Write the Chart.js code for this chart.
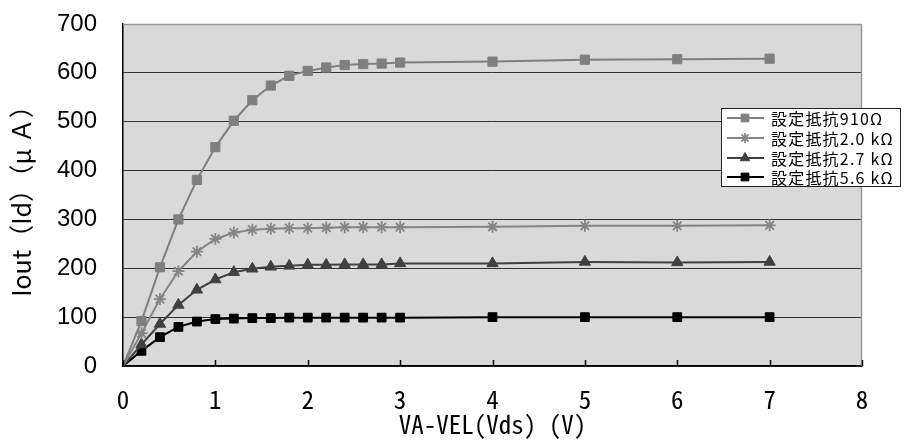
<!DOCTYPE html>
<html><head><meta charset="utf-8">
<script src="https://cdn.jsdelivr.net/npm/chart.js@4/dist/chart.umd.min.js"></script>
<style>html,body{margin:0;padding:0;background:#fff;}#wrap{width:904px;height:441px;}</style>
</head><body><div id="wrap"><canvas id="c" width="904" height="441"></canvas></div>
<script>
const vds = [0,0.2,0.4,0.6,0.8,1.0,1.2,1.4,1.6,1.8,2.0,2.2,2.4,2.6,2.8,3.0,4,5,6,7];
const r910 = [0,92,202,300,381,448,502,544,574,594,604,611,616,618,619,621,623,627,628,629];
const r2k0 = [0,67,137,194,234,260,273,279,281,282,282,283,284,284,284,284,285,287,287,288];
const r2k7 = [0,44,86,125,156,177,192,199,203,205,207,207,208,208,208,210,210,213,212,213];
const r5k6 = [0,31,59,80,91,96,97,98,98,99,99,99,99,99,99,99,100,100,100,100];
const seriesNames = ['設定抵抗910Ω','設定抵抗2.0 kΩ','設定抵抗2.7 kΩ','設定抵抗5.6 kΩ'];
const xTicks = [0,1,2,3,4,5,6,7,8];
const yTicks = [0,100,200,300,400,500,600,700];
const xTitle = 'VA-VEL(Vds) (V)';
const yTitle = 'Iout（Id）（μ Ａ）';

const pts = arr => arr.map((v,i)=>({x:vds[i], y:v}));
const radii = r => vds.map((v,i)=> i===0 ? 0 : r);

function ds(label, data, color, style, r){
  return {label, data:pts(data), borderColor:color, backgroundColor:color,
    pointBorderColor:color, pointBackgroundColor:color, pointStyle:style,
    pointRadius:radii(r), pointHoverRadius:radii(r), borderWidth:2, pointBorderWidth:style==='star'?1.8:1,
    tension:0, fill:false};
}

const MONO = '"Noto Sans Mono CJK JP","Noto Sans CJK JP",sans-serif';

const bgPlugin = {
  id:'bg',
  beforeDraw(chart){
    const {ctx, chartArea:a} = chart;
    ctx.save(); ctx.fillStyle='#d9d9d9';
    ctx.fillRect(a.left,a.top,a.right-a.left,a.bottom-a.top);
    ctx.restore();
  },
  afterDatasetsDraw(chart){
    const {ctx, chartArea:a, scales} = chart;
    ctx.save();
    ctx.strokeStyle='#999'; ctx.lineWidth=1.5;
    ctx.beginPath(); ctx.moveTo(a.left,a.top+0.5); ctx.lineTo(a.right,a.top+0.5);
    ctx.moveTo(a.right-0.5,a.top); ctx.lineTo(a.right-0.5,a.bottom); ctx.stroke();
    ctx.strokeStyle='#000'; ctx.lineWidth=1.5;
    ctx.beginPath();
    xTicks.forEach(t=>{const px=Math.round(scales.x.getPixelForValue(t))+0.5;
      ctx.moveTo(px,a.bottom); ctx.lineTo(px,a.bottom-6);});
    ctx.stroke();
    ctx.restore();
  },
  afterDraw(chart){
    const ctx = chart.ctx;
    const L=721, T=108, R=901, B=187;
    ctx.save();
    ctx.fillStyle='#fff'; ctx.fillRect(L,T,R-L,B-T);
    ctx.strokeStyle='#222'; ctx.lineWidth=1; ctx.strokeRect(L+0.5,T+0.5,R-L-1,B-T-1);
    const rows=[118,138,158,177];
    chart.data.datasets.forEach((d,i)=>{
      const y=rows[i];
      ctx.strokeStyle=d.borderColor; ctx.lineWidth=2;
      ctx.beginPath(); ctx.moveTo(727,y); ctx.lineTo(764,y); ctx.stroke();
      ctx.fillStyle=d.backgroundColor; ctx.strokeStyle=d.borderColor;
      ctx.lineWidth=d.pointBorderWidth;
      Chart.helpers.drawPoint(ctx,{pointStyle:d.pointStyle,radius:d.pointStyle==='star'?5:5.5,rotation:0,borderWidth:d.pointBorderWidth},745,y);
      ctx.fillStyle='#000';
      ctx.font='16px "Noto Sans CJK JP", sans-serif';
      ctx.textBaseline='middle';
      try{ctx.letterSpacing='1.2px';}catch(e){}
      ctx.fillText(d.label,771,y+1);
      try{ctx.letterSpacing='0px';}catch(e){}
    });
    ctx.restore();
  }
};

new Chart(document.getElementById('c'),{
  type:'line',
  data:{datasets:[
    ds(seriesNames[0], r910, '#7f7f7f','rect',6.5),
    ds(seriesNames[1], r2k0, '#858585','star',6),
    ds(seriesNames[2], r2k7, '#404040','triangle',6.5),
    ds(seriesNames[3], r5k6, '#000000','rect',6.2)
  ]},
  options:{
    responsive:false, animation:false, devicePixelRatio:1,
    layout:{padding:{top:24,right:42,left:0,bottom:0}},
    plugins:{legend:{display:false},tooltip:{enabled:false}},
    scales:{
      x:{type:'linear',min:0,max:8,
        afterBuildTicks(s){s.ticks=xTicks.map(v=>({value:v}));},
        afterFit(s){s.height=75;},
        grid:{display:false,drawTicks:false},
        border:{display:true,color:'#000',width:1.5},
        ticks:{padding:18,color:'#000',font:{family:MONO,size:25}},
        title:{display:true,text:xTitle,color:'#000',padding:{top:0,bottom:2},
          font:{family:MONO,size:25}}
      },
      y:{type:'linear',min:0,max:700,
        afterBuildTicks(s){s.ticks=yTicks.map(v=>({value:v}));},
        afterFit(s){s.width=123;},
        grid:{drawTicks:true,tickLength:26,tickColor:'rgba(0,0,0,0)',
          color:c=>c.tick&&c.tick.value===700?'rgba(0,0,0,0)':'#333',lineWidth:1},
        border:{display:true,color:'#000',width:1.5},
        ticks:{padding:0,color:'#000',font:{family:'"Liberation Sans",Arial,sans-serif',size:24}},
        title:{display:true,text:yTitle,color:'#000',padding:{top:6,bottom:0},
          font:{family:'"Noto Sans CJK JP",sans-serif',size:25}}
      }
    }
  },
  plugins:[bgPlugin]
});
</script></body></html>
